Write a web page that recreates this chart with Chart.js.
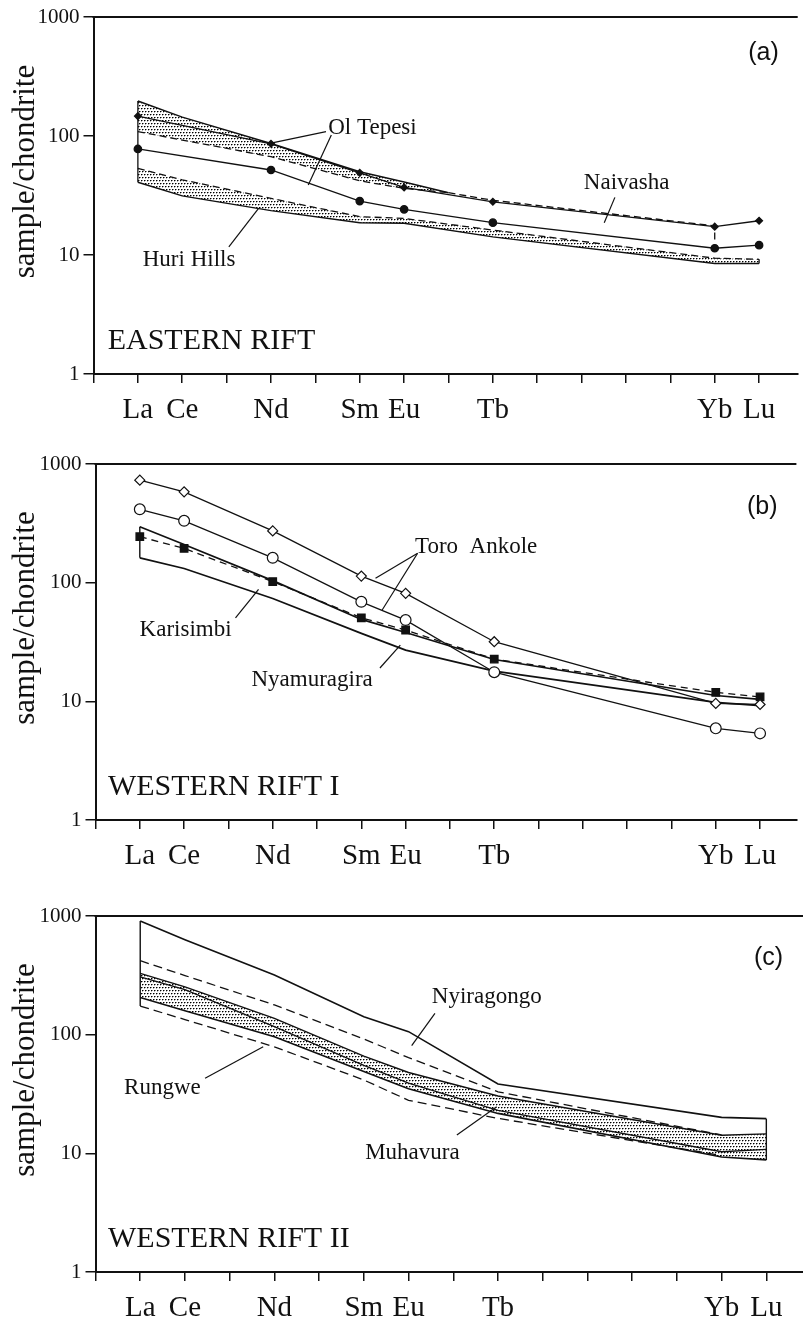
<!DOCTYPE html>
<html>
<head>
<meta charset="utf-8">
<title>REE patterns of East African rift lavas</title>
<script src="https://cdn.jsdelivr.net/npm/chart.js@4.4.1/dist/chart.umd.min.js"></script>
<style>
  html, body { margin: 0; padding: 0; background: #fff; }
  body { width: 803px; height: 1318px; position: relative; overflow: hidden; }
  canvas { position: absolute; left: 0; }
</style>
</head>
<body>
<canvas id="panelA" width="803" height="440" style="top:0px"></canvas>
<canvas id="panelB" width="803" height="445" style="top:440px"></canvas>
<canvas id="panelC" width="803" height="433" style="top:885px"></canvas>
<script>
// ---- axes -------------------------------------------------------------
// atomic number of each labelled rare earth element
const REE_Z = [57, 58, 60, 62, 63, 65, 70, 71];
const REE_LABELS = ['La', 'Ce', 'Nd', 'Sm', 'Eu', 'Tb', 'Yb', 'Lu'];
const Y_TICKS = [1, 10, 100, 1000];
const Y_TITLE = 'sample/chondrite';

// ---- (a) Eastern Rift ---------------------------------------------------
const olTepesiZ = [57, 58, 60, 62, 63, 64];
const olTepesiHigh = [197, 144, 86.5, 50, 41, 33.4];
const olTepesiLow = [109, 92.5, 67, 42, 36.3, 33.4];
const naivashaZ = [57, 60, 62, 63, 65, 70, 71];
const naivashaDiamond = [147, 86, 49, 37, 28, 17.3, 19.4];
const naivashaCircle = [77.8, 51.8, 28.4, 24.2, 18.7, 11.4, 12.1];
const naivashaRangeZ = [64, 65, 70, 70];
const naivashaRange = [33.4, 28.8, 17.6, 12.6];
const huriHillsHigh = [53.5, 42.8, 29.9, 21, 20.3, 16.2, 9.4, 9.2];
const huriHillsLow = [40.8, 31.4, 23.6, 18.7, 18.5, 14.2, 8.5, 8.5];
const easternLaEdge = [197, 40.8];
const huriLuEdge = [9.2, 8.5];

// ---- (b) Western Rift I --------------------------------------------------
const toroDiamond = [731, 583, 273, 113.6, 81.3, 31.8, 9.6, 9.4];
const toroCircle = [415, 332, 162, 69, 48.4, 17.6, 5.92, 5.37];
const nyamuragira = [244, 194.6, 102, 50.6, 39.9, 22.7, 11.9, 10.9];
const karisimbiHigh = [296, 210, 104, 49, 38, 22.5, 11.2, 10.4];
const karisimbiLow = [162, 131.6, 73.5, 37.4, 27, 18, 9.8, 9.2];
const karisimbiLaEdge = [296, 162];

// ---- (c) Western Rift II -------------------------------------------------
const nyiragongoHigh = [906, 630, 318, 141.6, 106, 38.4, 20.1, 19.6];
const dashedZ = [57, 58, 60, 62, 63, 65, 70];
const nyiragongoLow = [420, 315, 178, 92, 64, 33, 14.3];
const rungweLow = [174, 134, 79, 41.5, 28, 19.7, 9.6];
const muhavuraHigh = [328, 253, 137, 66, 48, 30.4, 14.2, 14.6];
const muhavuraMid = [307, 240, 117, 55, 39, 23, 10.3, 10.8];
const muhavuraLow = [206, 159, 96, 49, 35, 21.7, 9.3, 8.8];
const westernLaEdge = [906, 174];
const westernLuEdge = [19.6, 8.8];

// ---- helpers ---------------------------------------------------------------
const SERIF = "'Liberation Serif', 'Times New Roman', serif";
const SANS = "'Liberation Sans', Arial, sans-serif";
const INK = '#111';

function pts(zs, vs) { return vs.map((v, i) => ({ x: zs[i], y: v })); }
function edge(z, vs) { return vs.map(v => ({ x: z, y: v })); }

function line(data, extra) {
  return Object.assign({
    data, borderColor: INK, borderWidth: 1.3, pointRadius: 0,
    fill: false, tension: 0, clip: false
  }, extra || {});
}
function leader(seg) {
  return line([{ x: seg[0], y: seg[1] }, { x: seg[2], y: seg[3] }], { borderWidth: 1.2 });
}

// staggered dot screen used for the shaded ranges
function stipple(canvas) {
  const tile = document.createElement('canvas');
  tile.width = 6; tile.height = 6;
  const g = tile.getContext('2d');
  [[0, 0], [3, 0], [1, 3], [4, 3]].forEach(([px, py]) => {
    g.fillStyle = '#000'; g.fillRect(px, py, 1, 1);
    g.fillStyle = '#8a8a8a'; g.fillRect(px + 1, py, 1, 1);
    g.fillStyle = '#b0b0b0'; g.fillRect(px, py + 1, 1, 1);
  });
  return canvas.getContext('2d').createPattern(tile, 'repeat');
}

// frame line along the top, axis title, panel letter and annotation text
const decor = {
  id: 'decor',
  afterDraw(chart, args, o) {
    const { ctx, chartArea: a, scales: { x, y } } = chart;
    ctx.save();
    ctx.strokeStyle = INK;
    ctx.lineWidth = 2;
    ctx.beginPath();
    ctx.moveTo(a.left - 1, a.top);
    ctx.lineTo(a.right, a.top);
    ctx.stroke();

    ctx.fillStyle = INK;
    ctx.save();
    ctx.translate(26, (a.top + a.bottom) / 2 - 24);
    ctx.rotate(-Math.PI / 2);
    ctx.font = '31px ' + SERIF;
    ctx.textAlign = 'center';
    ctx.textBaseline = 'middle';
    ctx.fillText(Y_TITLE, 0, 0);
    ctx.restore();

    ctx.textBaseline = 'middle';
    ctx.font = '25px ' + SANS;
    ctx.textAlign = 'center';
    ctx.fillText(o.letter.text, x.getPixelForValue(o.letter.z), y.getPixelForValue(o.letter.v));

    ctx.textAlign = 'left';
    ctx.font = '30px ' + SERIF;
    ctx.fillText(o.region.text, x.getPixelForValue(o.region.z), y.getPixelForValue(o.region.v));

    ctx.font = '23px ' + SERIF;
    o.labels.forEach(l => ctx.fillText(l.text, x.getPixelForValue(l.z), y.getPixelForValue(l.v)));
    ctx.restore();
  }
};

function panel(id, geo, datasets, notes) {
  const canvas = document.getElementById(id);
  return new Chart(canvas, {
    type: 'line',
    data: { datasets: datasets(stipple(canvas)) },
    options: {
      responsive: false,
      animation: false,
      events: [],
      layout: { padding: { top: geo.top, left: 0, right: 0, bottom: 0 } },
      plugins: {
        legend: { display: false },
        tooltip: { enabled: false },
        filler: { drawTime: 'beforeDatasetsDraw' },
        decor: notes
      },
      scales: {
        x: {
          type: 'linear', min: 56, max: geo.xMax,
          afterFit: s => { s.height = geo.xAxisHeight; },
          ticks: {
            stepSize: 1, includeBounds: false, autoSkip: false, maxRotation: 0,
            padding: 10, color: INK, font: { family: SERIF, size: 29 },
            callback: v => { const i = REE_Z.indexOf(v); return i >= 0 ? REE_LABELS[i] : ''; }
          },
          grid: { drawOnChartArea: false, drawTicks: true, tickLength: 9, color: INK, lineWidth: 1.5 },
          border: { display: true, color: INK, width: 2 }
        },
        y: {
          type: 'logarithmic', min: 1, max: 1000,
          afterBuildTicks: s => { s.ticks = Y_TICKS.map(v => ({ value: v })); },
          afterFit: s => { s.width = geo.left; },
          ticks: {
            padding: 4, color: INK, font: { family: SERIF, size: 21 },
            callback: v => String(v)
          },
          grid: { drawOnChartArea: false, drawTicks: true, tickLength: 10, color: INK, lineWidth: 1.5 },
          border: { display: true, color: INK, width: 2 }
        }
      }
    },
    plugins: [decor]
  });
}

// ---- (a) -------------------------------------------------------------------
panel('panelA', { top: 17, left: 93.5, xAxisHeight: 66, xMax: 71.87 }, dots => [
  line(pts(naivashaZ, naivashaDiamond), {
    pointRadius: 3.4, pointStyle: 'rectRot', pointBackgroundColor: INK, pointBorderColor: INK
  }),
  line(pts(naivashaZ, naivashaCircle), {
    pointRadius: 3.7, pointStyle: 'circle', pointBackgroundColor: INK, pointBorderColor: INK
  }),
  line(pts(olTepesiZ, olTepesiHigh), { borderWidth: 1.5, fill: '+1', backgroundColor: dots }),
  line(pts(olTepesiZ, olTepesiLow), { borderDash: [7, 4] }),
  line(pts(REE_Z, huriHillsHigh), { borderDash: [7, 4], fill: '+1', backgroundColor: dots }),
  line(pts(REE_Z, huriHillsLow), { borderWidth: 1.5 }),
  line(pts(naivashaRangeZ, naivashaRange), { borderDash: [7, 4] }),
  line(edge(57, easternLaEdge)),
  line(edge(71, huriLuEdge)),
  leader([61.24, 108.7, 60.0, 87]),
  leader([61.36, 102, 60.84, 38.7]),
  leader([59.05, 11.7, 59.72, 24.7]),
  leader([67.75, 30.5, 67.51, 18.7])
], {
  letter: { text: '(a)', z: 71.1, v: 498 },
  region: { text: 'EASTERN RIFT', z: 56.32, v: 1.89 },
  labels: [
    { text: 'Ol Tepesi', z: 61.29, v: 116.8 },
    { text: 'Huri Hills', z: 57.11, v: 9.08 },
    { text: 'Naivasha', z: 67.05, v: 40.5 }
  ]
});

// ---- (b) -------------------------------------------------------------------
panel('panelB', { top: 24, left: 95.5, xAxisHeight: 65, xMax: 71.82 }, dots => [
  line(pts(REE_Z, toroDiamond), {
    pointRadius: 5, pointStyle: 'rectRot', pointBackgroundColor: '#fff',
    pointBorderColor: INK, pointBorderWidth: 1.2
  }),
  line(pts(REE_Z, toroCircle), {
    pointRadius: 5.4, pointStyle: 'circle', pointBackgroundColor: '#fff',
    pointBorderColor: INK, pointBorderWidth: 1.2
  }),
  line(pts(REE_Z, nyamuragira), {
    borderDash: [7, 5], pointRadius: 5.3, pointStyle: 'rect',
    pointBackgroundColor: INK, pointBorderColor: INK
  }),
  line(pts(REE_Z, karisimbiHigh), { borderWidth: 1.7 }),
  line(pts(REE_Z, karisimbiLow), { borderWidth: 1.7 }),
  line(edge(57, karisimbiLaEdge), { borderWidth: 1.4 }),
  leader([63.27, 177, 62.32, 108.9]),
  leader([63.27, 177, 62.47, 58.9]),
  leader([59.16, 50.4, 59.68, 87.9]),
  leader([62.42, 19.1, 62.88, 29.8])
], {
  letter: { text: '(b)', z: 71.05, v: 436 },
  region: { text: 'WESTERN RIFT I', z: 56.28, v: 1.9 },
  labels: [
    { text: 'Toro  Ankole', z: 63.21, v: 199.7 },
    { text: 'Karisimbi', z: 56.995, v: 39.9 },
    { text: 'Nyamuragira', z: 59.52, v: 15.1 }
  ]
});

// ---- (c) -------------------------------------------------------------------
panel('panelC', { top: 31, left: 95.5, xAxisHeight: 46, xMax: 71.82 }, dots => [
  line(pts(REE_Z, nyiragongoHigh), { borderWidth: 1.6 }),
  line(pts(dashedZ, nyiragongoLow), { borderDash: [9, 5] }),
  line(pts(REE_Z, muhavuraHigh), { borderWidth: 1.4, fill: '+2', backgroundColor: dots }),
  line(pts(REE_Z, muhavuraMid), { borderWidth: 1.4 }),
  line(pts(REE_Z, muhavuraLow), { borderWidth: 1.6 }),
  line(pts(dashedZ, rungweLow), { borderDash: [9, 5] }),
  line(edge(57, westernLaEdge), { borderWidth: 1.4 }),
  line(edge(71, westernLuEdge), { borderWidth: 1.4 }),
  leader([63.59, 151.4, 63.07, 80.7]),
  leader([58.45, 42.9, 59.75, 79.2]),
  leader([64.08, 14.3, 64.97, 24.7])
], {
  letter: { text: '(c)', z: 71.05, v: 440 },
  region: { text: 'WESTERN RIFT II', z: 56.28, v: 1.9 },
  labels: [
    { text: 'Nyiragongo', z: 63.52, v: 206.5 },
    { text: 'Rungwe', z: 56.64, v: 35.3 },
    { text: 'Muhavura', z: 62.03, v: 10.0 }
  ]
});
</script>
</body>
</html>
